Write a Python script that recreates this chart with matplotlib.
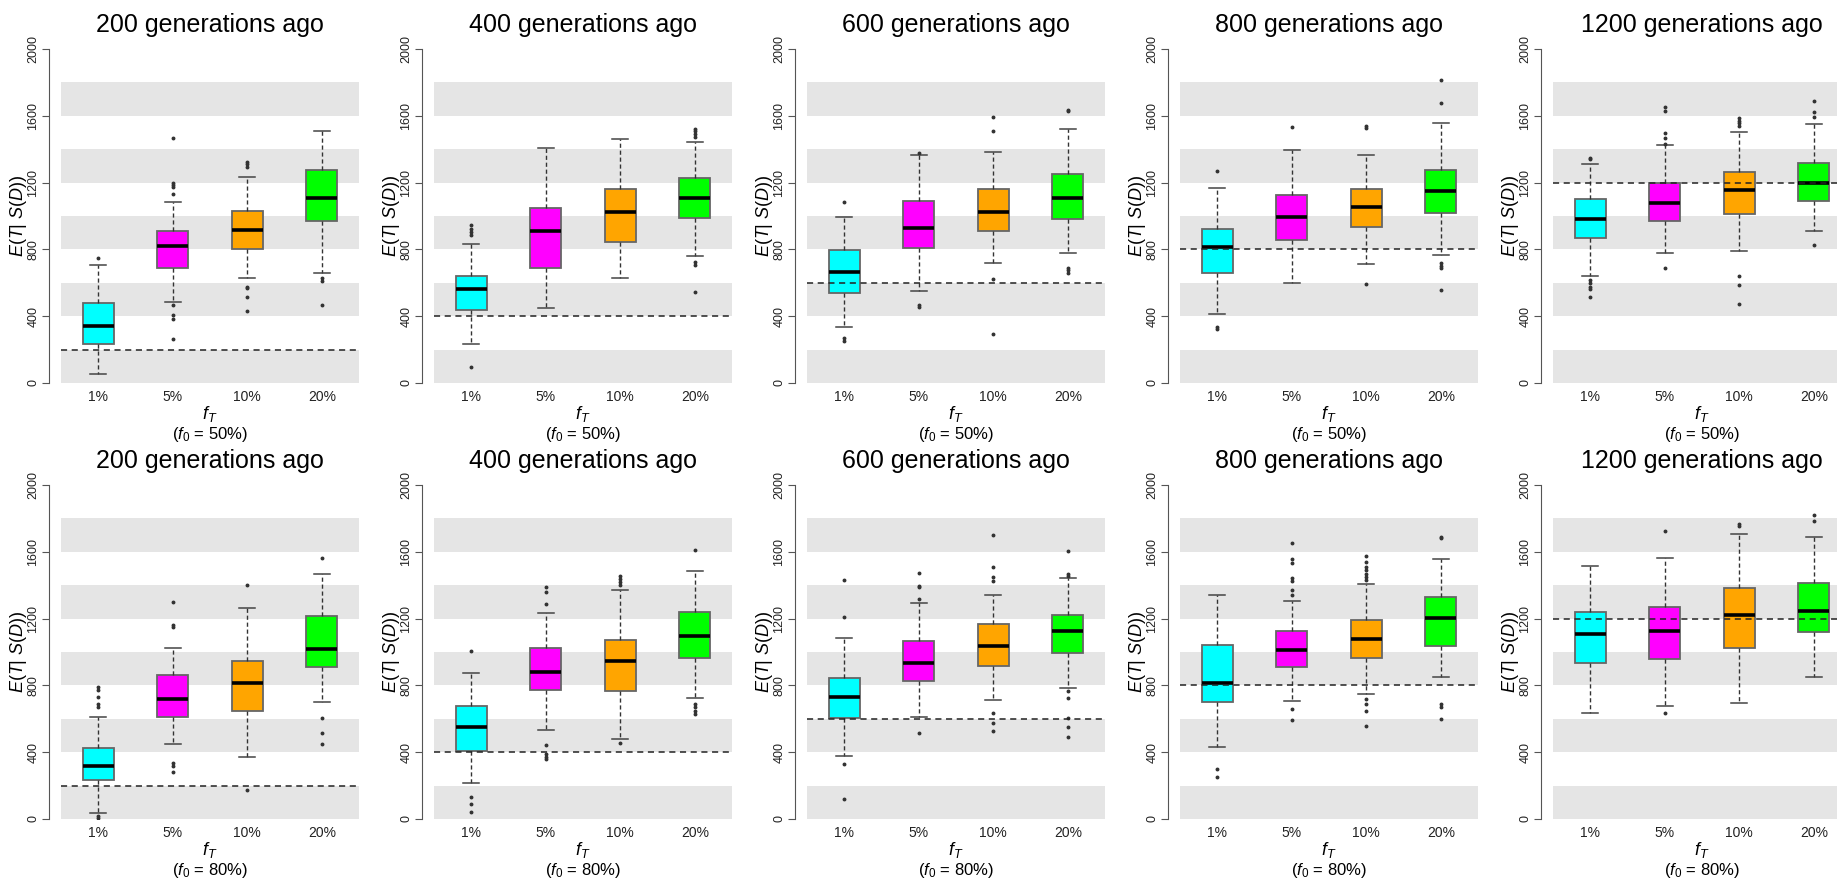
import matplotlib
matplotlib.use('Agg')
import matplotlib.pyplot as plt

plt.rcParams['font.family'] = ['Liberation Sans', 'DejaVu Sans']
plt.rcParams['mathtext.fontset'] = 'custom'
plt.rcParams['mathtext.rm'] = 'Liberation Sans'
plt.rcParams['mathtext.it'] = 'Liberation Sans:italic'

generations = [200, 400, 600, 800, 1200]
f0_values = ['50%', '80%']
f_t = ['1%', '5%', '10%', '20%']
box_colors = ['#00ffff', '#ff00ff', '#ffa500', '#00ff00']
bands = [(0, 200), (400, 600), (800, 1000), (1200, 1400), (1600, 1800)]

# per panel, per f_T: whisker low, Q1, median, Q3, whisker high
stats_f0_50 = [
    [(54, 236, 340, 480, 706), (486, 690, 820, 908, 1086), (626, 804, 916, 1028, 1232), (660, 970, 1110, 1274, 1506)],
    [(234, 436, 560, 640, 830), (448, 690, 912, 1050, 1410), (628, 846, 1022, 1160, 1460), (758, 990, 1110, 1228, 1442)],
    [(334, 538, 664, 794, 992), (548, 806, 930, 1090, 1368), (716, 910, 1026, 1164, 1382), (780, 982, 1108, 1250, 1520)],
    [(416, 660, 814, 922, 1166), (596, 856, 992, 1126, 1398), (710, 936, 1052, 1164, 1366), (764, 1016, 1152, 1278, 1554)],
    [(642, 870, 982, 1100, 1310), (776, 970, 1080, 1200, 1426), (788, 1014, 1158, 1262, 1504), (910, 1092, 1200, 1320, 1550)],
]
fliers_f0_50 = [
    [[750], [262, 386, 406, 466, 1132, 1172, 1186, 1200, 1466], [434, 514, 566, 576, 1296, 1310, 1326], [470, 610, 630]],
    [[94, 884, 904, 924, 944], [], [], [544, 706, 726, 1476, 1490, 1506, 1520]],
    [[252, 272, 1086], [456, 470, 1380], [292, 620, 1506, 1592], [656, 676, 690, 1626, 1632]],
    [[322, 336, 1270], [1532], [592, 1528, 1536], [556, 690, 700, 716, 1674, 1816]],
    [[512, 560, 576, 596, 616, 1340, 1346], [690, 1432, 1466, 1496, 1626, 1650], [474, 584, 640, 1536, 1556, 1570, 1586], [826, 1592, 1622, 1686]],
]

stats_f0_80 = [
    [(34, 234, 315, 427, 611), (449, 609, 719, 860, 1024), (373, 645, 816, 948, 1264), (699, 910, 1020, 1216, 1467)],
    [(216, 409, 553, 675, 876), (535, 774, 882, 1022, 1232), (479, 768, 946, 1074, 1371), (725, 964, 1096, 1238, 1483)],
    [(377, 605, 733, 844, 1084), (609, 828, 934, 1068, 1295), (711, 914, 1038, 1170, 1341), (784, 994, 1128, 1224, 1441)],
    [(431, 701, 816, 1040, 1339), (705, 912, 1012, 1128, 1303), (751, 964, 1080, 1192, 1407), (852, 1034, 1204, 1329, 1557)],
    [(635, 932, 1106, 1240, 1515), (677, 958, 1128, 1270, 1565), (695, 1022, 1224, 1385, 1705), (850, 1120, 1246, 1411, 1687)],
]
fliers_f0_80 = [
    [[5, 20, 670, 690, 730, 775, 790], [279, 319, 333, 1148, 1162, 1297], [176, 1401], [451, 517, 603, 1563]],
    [[44, 90, 130, 1004], [359, 373, 389, 445, 1287, 1357, 1387], [453, 1400, 1417, 1437, 1457], [629, 649, 669, 689, 1611]],
    [[118, 329, 1208, 1431], [513, 1315, 1387, 1397, 1471], [525, 577, 633, 1427, 1447, 1507, 1699], [493, 549, 605, 723, 768, 1457, 1467, 1603]],
    [[253, 299], [595, 657, 1343, 1371, 1427, 1441, 1531, 1557, 1651], [559, 649, 689, 719, 1430, 1450, 1470, 1490, 1510, 1540, 1577], [599, 673, 689, 1681, 1691]],
    [[], [633, 1725], [1752, 1764], [1785, 1822]],
]

W, H = 1837, 882
fig = plt.figure(figsize=(W / 100, H / 100), dpi=100)

rows = [(stats_f0_50, fliers_f0_50, f0_values[0], 383),
        (stats_f0_80, fliers_f0_80, f0_values[1], 819)]

for stats, fliers, f0, ybot in rows:
    for p in range(5):
        x0 = 49 + 373 * p
        ax = fig.add_axes([x0 / W, (H - ybot) / H, 322 / W, 334 / H])

        for lo, hi in bands:
            ax.fill_between([0.5, 4.5], lo, hi, color='#e5e5e5', lw=0, zorder=0)

        bstats = []
        for k in range(4):
            lo, q1, med, q3, hi = stats[p][k]
            bstats.append(dict(whislo=lo, q1=q1, med=med, q3=q3, whishi=hi,
                               fliers=fliers[p][k], label=f_t[k]))
        bp = ax.bxp(bstats, positions=[1, 2, 3, 4], widths=0.42, patch_artist=True,
                    boxprops=dict(edgecolor='#666666', linewidth=1.3),
                    medianprops=dict(color='black', linewidth=2.6),
                    whiskerprops=dict(color='#333333', linewidth=1.0, linestyle=(0, (3, 2))),
                    capprops=dict(color='#444444', linewidth=1.1),
                    flierprops=dict(marker='o', markersize=1.8, markerfacecolor='#333333',
                                    markeredgecolor='#333333', linestyle='none'))
        for patch, c in zip(bp['boxes'], box_colors):
            patch.set_facecolor(c)

        # true age of the event
        ax.plot([0.5, 4.5], [generations[p]] * 2, color='#222222', lw=1.1,
                ls=(0, (4, 3)), zorder=4)

        ax.set_xlim(0.34, 4.66)
        ax.set_ylim(0, 2000)
        for s in ['top', 'right', 'bottom']:
            ax.spines[s].set_visible(False)
        ax.spines['left'].set_bounds(0, 2000)
        ax.spines['left'].set_color('#555555')
        ax.set_yticks(range(0, 2001, 400))
        ax.tick_params(axis='y', labelrotation=90, labelsize=9, length=5, pad=2,
                       color='#555555', labelcolor='#222222')
        ax.set_xticks([1, 2, 3, 4])
        ax.set_xticklabels(f_t)
        ax.tick_params(axis='x', length=0, labelsize=10, pad=5, labelcolor='#222222')
        for lab in ax.get_yticklabels():
            lab.set_verticalalignment('center')

        ax.text(0.5, 1.072, f'{generations[p]} generations ago', transform=ax.transAxes,
                ha='center', va='center', fontsize=18)
        ax.text(-0.096, 0.5, r'$E(T|\ S(D))$', transform=ax.transAxes, rotation=90,
                ha='center', va='center', fontsize=13)
        ax.text(0.5, -0.092, r'$f_T$', transform=ax.transAxes, ha='center', va='center',
                fontsize=13)
        ax.text(0.5, -0.153, r'($f_0$ = ' + f0 + ')', transform=ax.transAxes,
                ha='center', va='center', fontsize=12)

fig.savefig('out.png', dpi=100)
